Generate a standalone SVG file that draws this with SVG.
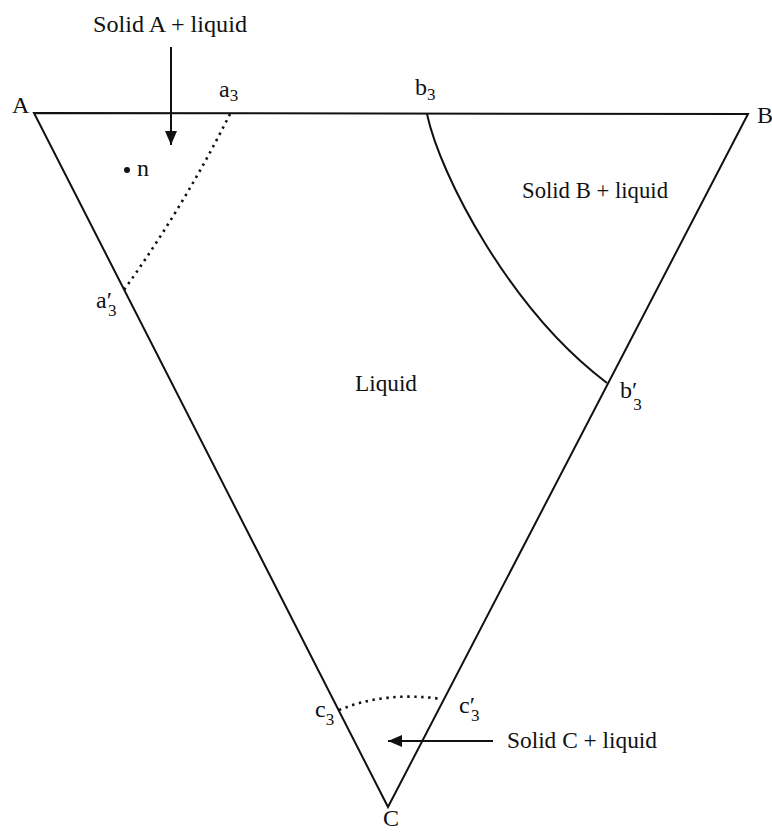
<svg xmlns="http://www.w3.org/2000/svg" width="772" height="832" viewBox="0 0 772 832">
<style>
.t{font-family:"Liberation Serif","Times New Roman","DejaVu Serif",serif;fill:#111;font-size:24px}
.s{font-size:17px}
.ln{fill:none;stroke:#111;stroke-width:2}
.dot{fill:none;stroke:#111;stroke-width:2.6;stroke-dasharray:2.4 4.6}
</style>
<defs>
<marker id="ah" viewBox="0 0 14 12" refX="14" refY="6" markerWidth="14" markerHeight="12" markerUnits="userSpaceOnUse" orient="auto">
<path d="M0,0 L14,6 L0,12 Z" fill="#111"/>
</marker>
</defs>
<rect width="772" height="832" fill="#fff"/>
<g id="triangle">
<polygon class="ln" points="34,113 748,114 388,807"/>
</g>
<g id="boundaries">
<path id="curve-a3" class="dot" d="M230,114 Q184,206 124,290"/>
<path id="curve-b3" class="ln" d="M427,114 C440,175 510,310 607,383"/>
<path id="curve-c3" class="dot" d="M339,710 Q385,691 442,699"/>
</g>
<g id="connectors">
<line class="ln" x1="171" y1="47" x2="171" y2="145" marker-end="url(#ah)"/>
<line class="ln" x1="493" y1="741" x2="388" y2="741" marker-end="url(#ah)"/>
</g>
<g id="vertex-labels">
<text class="t" x="12" y="113">A</text>
<text class="t" x="757" y="123">B</text>
<text class="t" x="383" y="826">C</text>
</g>
<g id="point-labels">
<text class="t" x="219" y="97">a<tspan class="s" dy="4">3</tspan></text>
<text class="t" x="415" y="95">b<tspan class="s" dy="5">3</tspan></text>
<text class="t" x="96" y="308">a′<tspan class="s" dx="-4" dy="8">3</tspan></text>
<text class="t" x="620" y="398">b′<tspan class="s" dx="-4" dy="12">3</tspan></text>
<text class="t" x="315" y="717">c<tspan class="s" dy="8">3</tspan></text>
<text class="t" x="459" y="713">c′<tspan class="s" dx="-4" dy="8">3</tspan></text>
</g>
<g id="point-n">
<circle cx="127" cy="170" r="3" fill="#111"/>
<text class="t" x="137" y="176">n</text>
</g>
<g id="region-labels">
<text class="t" x="93" y="32" textLength="154" lengthAdjust="spacingAndGlyphs">Solid A + liquid</text>
<text class="t" x="522" y="198" textLength="146" lengthAdjust="spacingAndGlyphs">Solid B + liquid</text>
<text class="t" x="355" y="391" textLength="62" lengthAdjust="spacingAndGlyphs">Liquid</text>
<text class="t" x="507" y="748" textLength="150" lengthAdjust="spacingAndGlyphs">Solid C + liquid</text>
</g>
</svg>
